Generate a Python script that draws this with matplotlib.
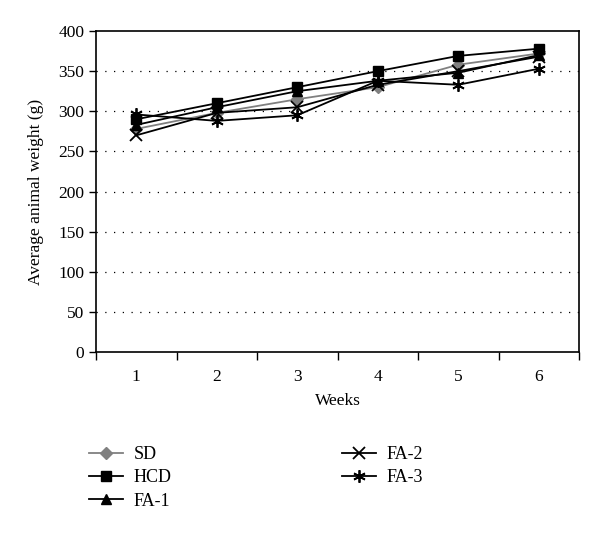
import matplotlib.pyplot as plt

weeks = [1, 2, 3, 4, 5, 6]
sd = [278, 298, 315, 330, 358, 372]
hcd = [290, 310, 330, 350, 369, 378]
fa1 = [283, 305, 325, 338, 348, 370]
fa2 = [270, 298, 305, 333, 350, 368]
fa3 = [296, 288, 295, 338, 333, 353]

plt.rcParams['font.family'] = ['Liberation Serif', 'DejaVu Serif']
plt.rcParams['font.size'] = 12.5

fig = plt.figure(figsize=(6, 5.33), dpi=100)
ax = fig.add_axes([0.16, 0.3396, 0.805, 0.6022])

asterisk = (6, 2, 0)
ax.plot(weeks, sd, color='#808080', marker='D', markersize=6, lw=1.3, label='SD', zorder=3)
ax.plot(weeks, hcd, color='black', marker='s', markersize=7, lw=1.3, label='HCD', zorder=3)
ax.plot(weeks, fa1, color='black', marker='^', markersize=7, lw=1.3, label='FA-1', zorder=3)
ax.plot(weeks, fa2, color='black', marker='x', markersize=8, mew=1.3, lw=1.3, label='FA-2', zorder=3)
ax.plot(weeks, fa3, color='black', marker=asterisk, markersize=9, mew=1.3, lw=1.3, label='FA-3', zorder=3)

ax.set_xlim(0.5, 6.5)
ax.set_ylim(0, 400)
ax.set_yticks(range(0, 401, 50))
for y in range(50, 400, 50):
    ax.axhline(y, color='black', lw=0.9, linestyle=(0, (1, 6)), zorder=1)

ax.set_xticks([0.5 + i for i in range(7)])
ax.set_xticklabels([])
ax.set_xticks(weeks, minor=True)
ax.set_xticklabels([str(w) for w in weeks], minor=True)
ax.tick_params(axis='x', which='major', direction='out', length=6, width=1)
ax.tick_params(axis='x', which='minor', length=0, pad=12)
ax.tick_params(axis='y', direction='out', length=5, width=1)
for s in ax.spines.values():
    s.set_linewidth(1.2)

ax.set_xlabel('Weeks', labelpad=6)
ax.set_ylabel('Average animal weight (g)', labelpad=10)

fig.legend(loc='upper left', bbox_to_anchor=(0.136, 0.177), ncol=2, frameon=False,
           handlelength=1.9, columnspacing=9.4, labelspacing=0.35, handletextpad=0.6,
           fontsize=13, borderaxespad=0)

fig.savefig('out.png', dpi=100)
